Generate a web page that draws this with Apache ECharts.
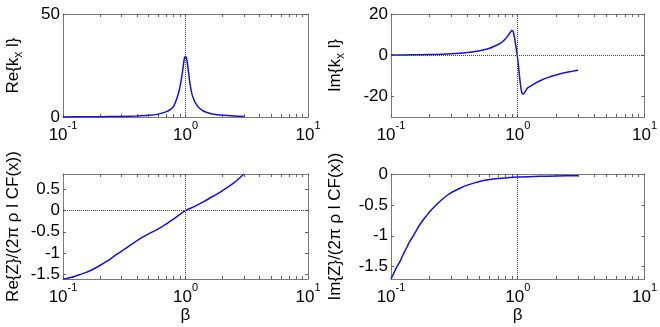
<!DOCTYPE html>
<html>
<head>
<meta charset="utf-8">
<script src="https://cdn.jsdelivr.net/npm/echarts@6/dist/echarts.min.js"></script>
<style>
html,body{margin:0;padding:0;background:#fff;}
#chart{width:660px;height:327px;}
</style>
</head>
<body>
<div id="chart"></div>
<script>
// beta samples for the k_x l curves (denser near the resonance)
var betaK = [0.1, 0.15, 0.2, 0.3, 0.4, 0.5, 0.6, 0.7, 0.75, 0.8, 0.85, 0.88, 0.9, 0.92, 0.94, 0.96, 0.98, 1.0,
             1.02, 1.04, 1.06, 1.08, 1.1, 1.13, 1.17, 1.2, 1.3, 1.4, 1.5, 1.7, 2.0, 2.5, 3.0];
var reK = [0.05, 0.1, 0.15, 0.3, 0.5, 0.8, 1.4, 2.6, 3.6, 5.2, 9, 12, 14.5, 17.5, 21, 25, 28.5, 29.5,
           28.5, 25.5, 21.5, 17.5, 14.5, 11, 8.5, 7, 4.2, 2.9, 2.2, 1.3, 0.8, 0.45, 0.3];
var imK = [0.1, 0.2, 0.3, 0.7, 1.3, 2.2, 3.4, 5.2, 6.3, 8, 10, 11.4, 12, 11.5, 9, 5.5, 2, -2,
           -7, -12, -16, -18.5, -18.8, -18.2, -16.8, -15.8, -14.5, -13.3, -12.4, -11, -9.6, -8.2, -7.3];

// impedance curves
var betaReZ = [0.1, 0.106, 0.113, 0.124, 0.136, 0.153, 0.173, 0.2, 0.234, 0.27, 0.316, 0.37, 0.427, 0.5,
               0.576, 0.67, 0.78, 0.88, 1.0, 1.2, 1.42, 1.65, 1.92, 2.2, 2.51, 2.75, 3.0];
var reZ = [-1.62, -1.61, -1.59, -1.56, -1.52, -1.47, -1.40, -1.30, -1.18, -1.05, -0.92, -0.78, -0.66, -0.55,
           -0.46, -0.35, -0.22, -0.11, 0, 0.11, 0.22, 0.33, 0.44, 0.55, 0.67, 0.77, 0.87];
var betaImZ = [0.1, 0.105, 0.11, 0.118, 0.125, 0.133, 0.14, 0.15, 0.16, 0.17, 0.18, 0.19, 0.2, 0.22, 0.25,
               0.28, 0.3, 0.35, 0.4, 0.5, 0.6, 0.7, 0.8, 1.0, 1.5, 2.0, 3.0];
var imZ = [-1.7, -1.61, -1.52, -1.41, -1.3, -1.19, -1.1, -1.0, -0.9, -0.81, -0.74, -0.68, -0.62, -0.53, -0.42,
           -0.34, -0.3, -0.23, -0.18, -0.12, -0.09, -0.073, -0.063, -0.05, -0.038, -0.033, -0.027];

// axes
var xLabelTicks = [0.1, 1, 10];
var xMinorTicks = [0.1, 0.2, 0.3, 0.4, 0.5, 0.6, 0.7, 0.8, 0.9, 1, 2, 3, 4, 5, 6, 7, 8, 9, 10];
var yRanges = [[0, 50], [-30, 20], [-1.62, 0.87], [-1.7, 0]];
var yTickValues = [[0, 50], [-20, 0, 20], [-1.5, -1, -0.5, 0, 0.5], [-1.5, -1, -0.5, 0]];
var yNames = ['Re{k{s|x}{n| l}}', 'Im{k{s|x}{n| l}}', 'Re{Z}/(2π ρ l CF(x))', 'Im{Z}/(2π ρ l CF(x))'];

var grids = [
    {left: 53, top: 14, width: 255, height: 103},
    {left: 391, top: 14, width: 255, height: 103},
    {left: 53, top: 174, width: 255, height: 105},
    {left: 391, top: 174, width: 255, height: 105}
];

var FONT = 'Liberation Sans, Arial, sans-serif';
var GRAY = '#7a7a7a';
var TICK = '#606060';

function pairs(xs, ys){
    return xs.map(function(x, i){ return [x, ys[i]]; });
}

var curves = [
    pairs(betaK, reK),
    pairs(betaK, imK),
    pairs(betaReZ, reZ),
    pairs(betaImZ, imZ)
];
// which dotted reference lines each panel shows
var refLines = [
    [{xAxis: 1}],
    [{xAxis: 1}, {yAxis: 0}],
    [{xAxis: 1}, {yAxis: 0}],
    [{xAxis: 1}]
];

var xAxes = [], yAxes = [], series = [];
for (var i = 0; i < 4; i++) {
    var lineCfg = {show: true, onZero: false, lineStyle: {color: GRAY, width: 1}};
    //下方x轴
    xAxes.push({
        type: 'log', logBase: 10, gridIndex: i, min: 0.1, max: 10, position: 'bottom',
        axisLine: lineCfg,
        axisTick: {show: true, inside: true, length: 3, customValues: xMinorTicks, lineStyle: {color: TICK}},
        axisLabel: {
            customValues: xLabelTicks, margin: 3, color: '#000',
            formatter: function(v){ return '{b|10}{s|' + Math.round(Math.log(v) / Math.LN10) + '}'; },
            rich: {
                b: {fontSize: 17, fontFamily: FONT, color: '#000', verticalAlign: 'bottom', lineHeight: 24},
                s: {fontSize: 11, fontFamily: FONT, color: '#000', verticalAlign: 'top', lineHeight: 12}
            }
        },
        splitLine: {show: false},
        name: i >= 2 ? 'β' : '', nameLocation: 'middle', nameGap: 24,
        nameTextStyle: {fontSize: 17, fontFamily: FONT, color: '#000'}
    });
    //上方x轴, 只画刻度
    xAxes.push({
        type: 'log', logBase: 10, gridIndex: i, min: 0.1, max: 10, position: 'top',
        axisLine: lineCfg,
        axisTick: {show: true, inside: true, length: 3, customValues: xMinorTicks, lineStyle: {color: TICK}},
        axisLabel: {show: false},
        splitLine: {show: false}
    });
    yAxes.push({
        type: 'value', gridIndex: i, min: yRanges[i][0], max: yRanges[i][1], position: 'left',
        axisLine: lineCfg,
        axisTick: {show: true, inside: true, length: 3, customValues: yTickValues[i], lineStyle: {color: TICK}},
        axisLabel: {customValues: yTickValues[i], margin: 3, fontSize: 17, fontFamily: FONT, color: '#000',
            formatter: function(v){ return String(v); }},
        splitLine: {show: false},
        name: yNames[i], nameLocation: 'middle', nameRotate: 90, nameGap: (i % 2 === 0) ? 38 : 44,
        nameTextStyle: {fontSize: 17, fontFamily: FONT, color: '#000', lineHeight: 24,
            rich: {
                n: {fontSize: 17, fontFamily: FONT, color: '#000', lineHeight: 24},
                s: {fontSize: 12, fontFamily: FONT, color: '#000', verticalAlign: 'bottom', lineHeight: 12}
            }}
    });
    yAxes.push({
        type: 'value', gridIndex: i, min: yRanges[i][0], max: yRanges[i][1], position: 'right',
        axisLine: lineCfg,
        axisTick: {show: true, inside: true, length: 3, customValues: yTickValues[i], lineStyle: {color: TICK}},
        axisLabel: {show: false},
        splitLine: {show: false}
    });
    series.push({
        type: 'line', xAxisIndex: 2 * i, yAxisIndex: 2 * i,
        data: curves[i], showSymbol: false, smooth: 0.25, clip: true,
        lineStyle: {color: '#1010e8', width: 1.5},
        markLine: {
            silent: true, symbol: ['none', 'none'], label: {show: false},
            lineStyle: {type: 'dotted', color: '#444', width: 1},
            data: refLines[i]
        }
    });
}

var option = {
    backgroundColor: '#fff',
    animation: false,
    grid: grids,
    xAxis: xAxes,
    yAxis: yAxes,
    series: series
};

var chart = echarts.init(document.getElementById('chart'), null, {renderer: 'canvas'});
chart.setOption(option);
</script>
</body>
</html>
